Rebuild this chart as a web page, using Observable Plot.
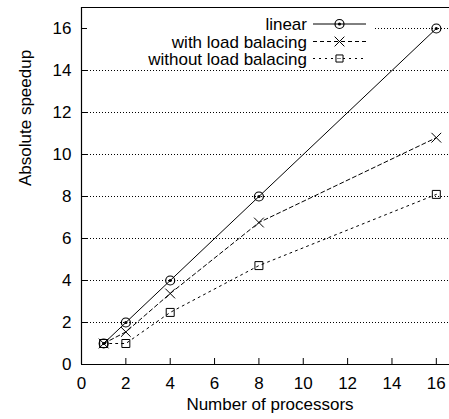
<!DOCTYPE html>
<html>
<head>
<meta charset="utf-8">
<script src="https://cdn.jsdelivr.net/npm/d3@7"></script>
<script src="https://cdn.jsdelivr.net/npm/@observablehq/plot@0.6"></script>
<style>
  html, body { margin: 0; padding: 0; background: white; overflow: hidden; }
</style>
</head>
<body>
<div id="chart"></div>
<script>
const xTicks = [0, 2, 4, 6, 8, 10, 12, 14, 16];
const yTicks = [0, 2, 4, 6, 8, 10, 12, 14, 16];
const processors = [1, 2, 4, 8, 16];
const linear = [1, 2, 4, 8, 16];
const withLB = [1, 1.55, 3.38, 6.76, 10.8];
const withoutLB = [1, 1, 2.48, 4.71, 8.1];
const seriesNames = ["linear", "with load balacing", "without load balacing"];
const xLabel = "Number of processors";
const yLabel = "Absolute speedup";

const rows = (vals, s) => processors.map((p, i) => ({x: p, y: vals[i], s}));
const dLin = rows(linear, seriesNames[0]);
const dWith = rows(withLB, seriesNames[1]);
const dWithout = rows(withoutLB, seriesNames[2]);

const W = 449, H = 419, mL = 81, mT = 7, mB = 55, mR = -9;
const frameW = W - mL - mR, frameH = H - mT - mB;
const font = "'Liberation Sans', Arial, Helvetica, sans-serif";

const chart = Plot.plot({
  width: W, height: H,
  marginLeft: mL, marginTop: mT, marginBottom: mB, marginRight: mR,
  x: {domain: [0, 17]},
  y: {domain: [0, 17]},
  style: {fontFamily: font, fontSize: "17px", background: "white", color: "black", overflow: "hidden"},
  marks: [
    Plot.ruleY(yTicks.filter(d => d > 0), {y: d => d, stroke: "black", strokeWidth: 1, strokeDasharray: "1,2", className: "grid"}),
    Plot.line(dLin, {x: "x", y: "y", stroke: "black", strokeWidth: 1}),
    Plot.line(dWith, {x: "x", y: "y", stroke: "black", strokeWidth: 1, strokeDasharray: "4,3"}),
    Plot.line(dWithout, {x: "x", y: "y", stroke: "black", strokeWidth: 1, strokeDasharray: "2,4"}),
    Plot.dot(dWithout, {x: "x", y: "y", symbol: "square", r: 4.5, stroke: "black", fill: "none", strokeWidth: 1}),
    Plot.dot(dWith, {x: "x", y: "y", symbol: "times", r: 4.5, stroke: "black", strokeWidth: 1}),
    Plot.dot(dLin, {x: "x", y: "y", symbol: "circle", r: 4.5, stroke: "black", fill: "none", strokeWidth: 1.2}),
    Plot.dot(dLin, {x: "x", y: "y", symbol: "circle", r: 1.6, fill: "black"}),
    Plot.ruleX([0], {stroke: "black", strokeWidth: 1.2}),
    Plot.ruleY([0, 17], {stroke: "black", strokeWidth: 1.2}),
    Plot.tickX(xTicks, {x: d => d, insetTop: frameH - 6, stroke: "black", strokeWidth: 1}),
    Plot.tickY(yTicks, {y: d => d, insetRight: frameW - 6, stroke: "black", strokeWidth: 1}),
    Plot.axisX(xTicks, {tickSize: 0, tickPadding: 12, label: null, fontSize: 17}),
    Plot.axisY(yTicks, {tickSize: 0, tickPadding: 10, label: null, fontSize: 17}),
    Plot.text([xLabel], {frameAnchor: "bottom", dy: 45, fontSize: 17}),
    Plot.text([yLabel], {frameAnchor: "left", dx: -56, rotate: -90, fontSize: 17})
  ]
});

document.getElementById("chart").appendChild(chart);

// Legend (gnuplot-style opaque key)
const svg = d3.select(chart);
const grid = svg.select("g.grid").node() || svg.select("g[aria-label='rule']").node();
const bg = document.createElementNS("http://www.w3.org/2000/svg", "rect");
bg.setAttribute("x", 83); bg.setAttribute("y", 13);
bg.setAttribute("width", 290); bg.setAttribute("height", 52);
bg.setAttribute("fill", "white");
grid.parentNode.insertBefore(bg, grid.nextSibling);

const legend = svg.append("g").attr("font-family", font).attr("font-size", 17);
const rowY = [24, 41.5, 58.5];
const dashes = [null, "4,3", "2,4"];
seriesNames.forEach((name, i) => {
  const y = rowY[i];
  legend.append("text").attr("x", 307).attr("y", y).attr("dy", "0.36em")
    .attr("text-anchor", "end").attr("fill", "black").text(name);
  const ln = legend.append("line").attr("x1", 313).attr("x2", 366).attr("y1", y).attr("y2", y)
    .attr("stroke", "black").attr("stroke-width", 1);
  if (dashes[i]) ln.attr("stroke-dasharray", dashes[i]);
  const cx = 339.5;
  if (i === 0) {
    legend.append("circle").attr("cx", cx).attr("cy", y).attr("r", 4.5).attr("fill", "white").attr("stroke", "black").attr("stroke-width", 1.2);
    legend.append("line").attr("x1", cx - 4.5).attr("x2", cx + 4.5).attr("y1", y).attr("y2", y).attr("stroke", "black");
    legend.append("circle").attr("cx", cx).attr("cy", y).attr("r", 1.6).attr("fill", "black");
  } else if (i === 1) {
    legend.append("path").attr("transform", `translate(${cx},${y})`)
      .attr("d", d3.symbol(d3.symbolTimes, Math.PI * 4.5 * 4.5)()).attr("stroke", "black").attr("fill", "none");
  } else {
    legend.append("path").attr("transform", `translate(${cx},${y})`)
      .attr("d", d3.symbol(d3.symbolSquare2, Math.PI * 4.5 * 4.5)()).attr("stroke", "black").attr("fill", "white");
    legend.append("line").attr("x1", cx - 2).attr("x2", cx + 2).attr("y1", y).attr("y2", y).attr("stroke", "black").attr("stroke-dasharray", "1,1");
  }
});
</script>
</body>
</html>
